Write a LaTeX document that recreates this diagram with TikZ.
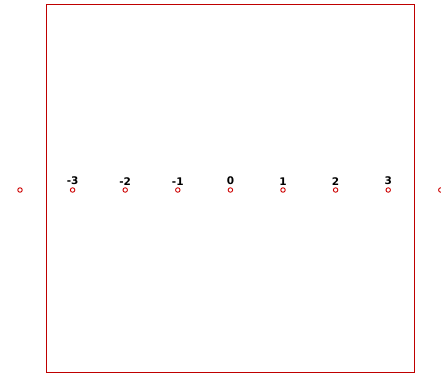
\documentclass[tikz,border=0pt]{standalone}
\usepackage{fontspec}
\setmainfont{DejaVu Sans}

\tikzset{
    punto/.style={circle, draw=red!80!black, line width=0.9pt, inner sep=0pt, minimum size=4.5pt},
    etichetta/.style={font=\bfseries\fontsize{10.5}{10.5}\selectfont, anchor=south, inner sep=0pt}
}

\begin{document}
\begin{tikzpicture}[x=1pt, y=-1pt]
    \useasboundingbox (0,0) rectangle (441,374);

    % ===== CORNICE =====
    \draw[red!75!black, line width=1pt] (46,5) rectangle (414,372);

    % ===== PUNTI =====
    \def\xZero{20}
    \def\passo{52.6}
    \def\yP{190}

    \foreach \k in {0,...,8} {
        \node[punto] (p\k) at ({\xZero+\k*\passo}, \yP) {};
    }

    % etichette sopra i punti interni
    \foreach \k in {1,...,7} {
        \pgfmathtruncatemacro{\n}{\k-4}
        \node[etichetta] (e\k) at ([yshift=2pt]p\k.north) {\n};
    }
\end{tikzpicture}
\end{document}
